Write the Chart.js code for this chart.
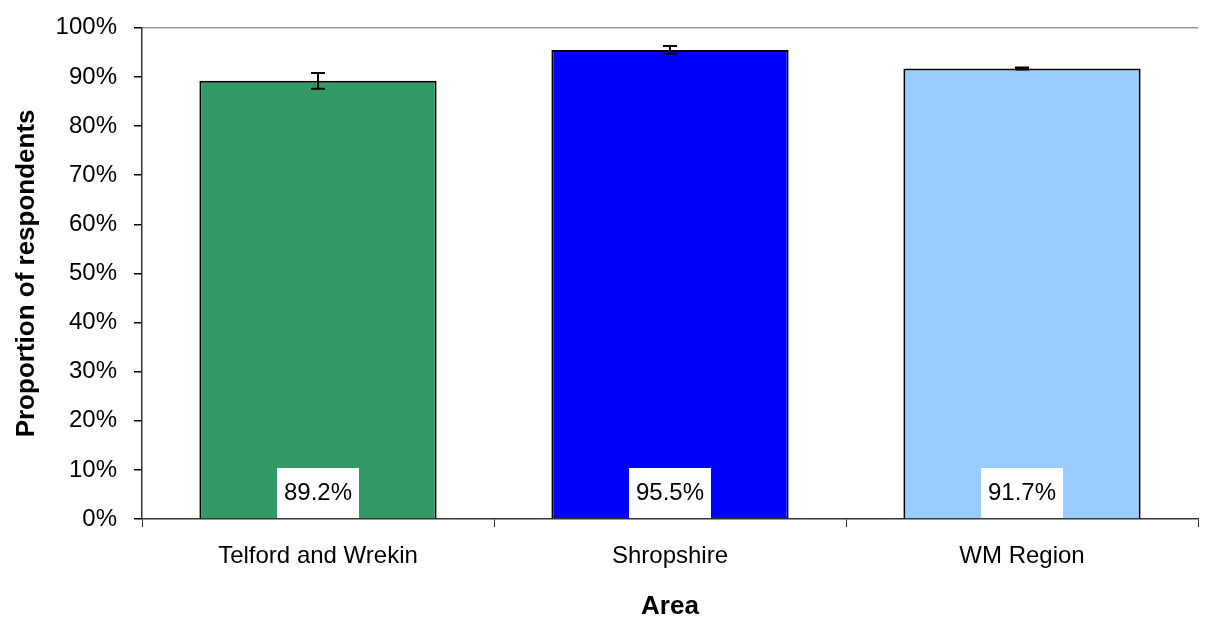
<!doctype html>
<html>
  <head>
    <title>Proportion of respondents by area</title>
    <script src="https://cdn.jsdelivr.net/npm/chart.js@4.4.0/dist/chart.umd.min.js"></script>
    <style>
      body { margin: 0; background: #fff; }
      #wrap { width: 1213px; height: 622px; }
    </style>
  </head>
  <body>
    <div id="wrap"><canvas id="areaChart"></canvas></div>
    <script>
      var areas = ["Telford and Wrekin", "Shropshire", "WM Region"];
      var proportions = [89.2, 95.5, 91.7];
      var errors = [1.6, 0.8, 0.2];
      var barColours = ["#339966", "#0000FF", "#99CCFF"];
      var yTicks = [0, 10, 20, 30, 40, 50, 60, 70, 80, 90, 100];

      var fontName = "'Liberation Sans', Arial, sans-serif";

      // error bars drawn on top of each bar
      var errorBars = {
        id: "errorBars",
        afterDatasetsDraw: function (chart) {
          var ctx = chart.ctx;
          var y = chart.scales.y;
          var meta = chart.getDatasetMeta(0);
          ctx.save();
          ctx.strokeStyle = "#000";
          ctx.lineWidth = 2;
          meta.data.forEach(function (bar, i) {
            var top = y.getPixelForValue(proportions[i] + errors[i]);
            var bot = y.getPixelForValue(proportions[i] - errors[i]);
            ctx.beginPath();
            ctx.moveTo(bar.x, top);
            ctx.lineTo(bar.x, bot);
            ctx.moveTo(bar.x - 7, top);
            ctx.lineTo(bar.x + 7, top);
            ctx.moveTo(bar.x - 7, bot);
            ctx.lineTo(bar.x + 7, bot);
            ctx.stroke();
          });
          ctx.restore();
        },
      };

      // value labels in white boxes at the bar base
      var valueLabels = {
        id: "valueLabels",
        afterDatasetsDraw: function (chart) {
          var ctx = chart.ctx;
          var base = chart.scales.y.getPixelForValue(0);
          var meta = chart.getDatasetMeta(0);
          ctx.save();
          ctx.font = "24px " + fontName;
          ctx.textAlign = "center";
          ctx.textBaseline = "middle";
          meta.data.forEach(function (bar, i) {
            var txt = proportions[i].toFixed(1) + "%";
            var w = 82, h = 50;
            ctx.fillStyle = "#fff";
            ctx.fillRect(bar.x - w / 2, base - h - 1, w, h);
            ctx.fillStyle = "#000";
            ctx.fillText(txt, bar.x, base - h / 2 - 1);
          });
          ctx.restore();
        },
      };

      var ctx = document.getElementById("areaChart").getContext("2d");
      var areaChart = new Chart(ctx, {
        type: "bar",
        data: {
          labels: areas,
          datasets: [
            {
              data: proportions,
              backgroundColor: barColours,
              borderColor: "#000",
              borderWidth: 2,
              categoryPercentage: 0.674,
              barPercentage: 1.0,
            },
          ],
        },
        options: {
          animation: false,
          responsive: true,
          maintainAspectRatio: false,
          devicePixelRatio: 1,
          layout: { padding: { top: 0, right: 15, left: 11, bottom: 0 } },
          plugins: {
            legend: { display: false },
            tooltip: { enabled: false },
          },
          scales: {
            x: {
              afterFit: function (axis) { axis.height = 103; },
              grid: {
                offset: true,
                drawOnChartArea: false,
                color: "#333",
                tickLength: 8,
              },
              border: { color: "#333", width: 1.5 },
              ticks: {
                color: "#000",
                font: { family: fontName, size: 24 },
                padding: 15,
              },
              title: {
                display: true,
                text: "Area",
                color: "#000",
                font: { family: fontName, size: 26, weight: "bold" },
                padding: { top: 21, bottom: 0 },
              },
            },
            y: {
              min: 0,
              max: 100,
              afterFit: function (axis) { axis.width = 131; },
              afterBuildTicks: function (axis) {
                axis.ticks = yTicks.map(function (v) { return { value: v }; });
              },
              grid: {
                color: function (c) {
                  return c.tick && c.tick.value === 100 ? "#999" : "rgba(0,0,0,0)";
                },
                lineWidth: 1.5,
                tickColor: "#000",
                tickLength: 8,
              },
              border: { color: "#333", width: 1.5 },
              ticks: {
                autoSkip: false,
                color: "#000",
                font: { family: fontName, size: 24, lineHeight: 0.9 },
                padding: 17,
                callback: function (v) { return v + "%"; },
              },
              title: {
                display: true,
                text: "Proportion of respondents",
                color: "#000",
                font: { family: fontName, size: 26, weight: "bold" },
                padding: { top: 0, bottom: 15 },
              },
            },
          },
        },
        plugins: [errorBars, valueLabels],
      });
    </script>
  </body>
</html>
